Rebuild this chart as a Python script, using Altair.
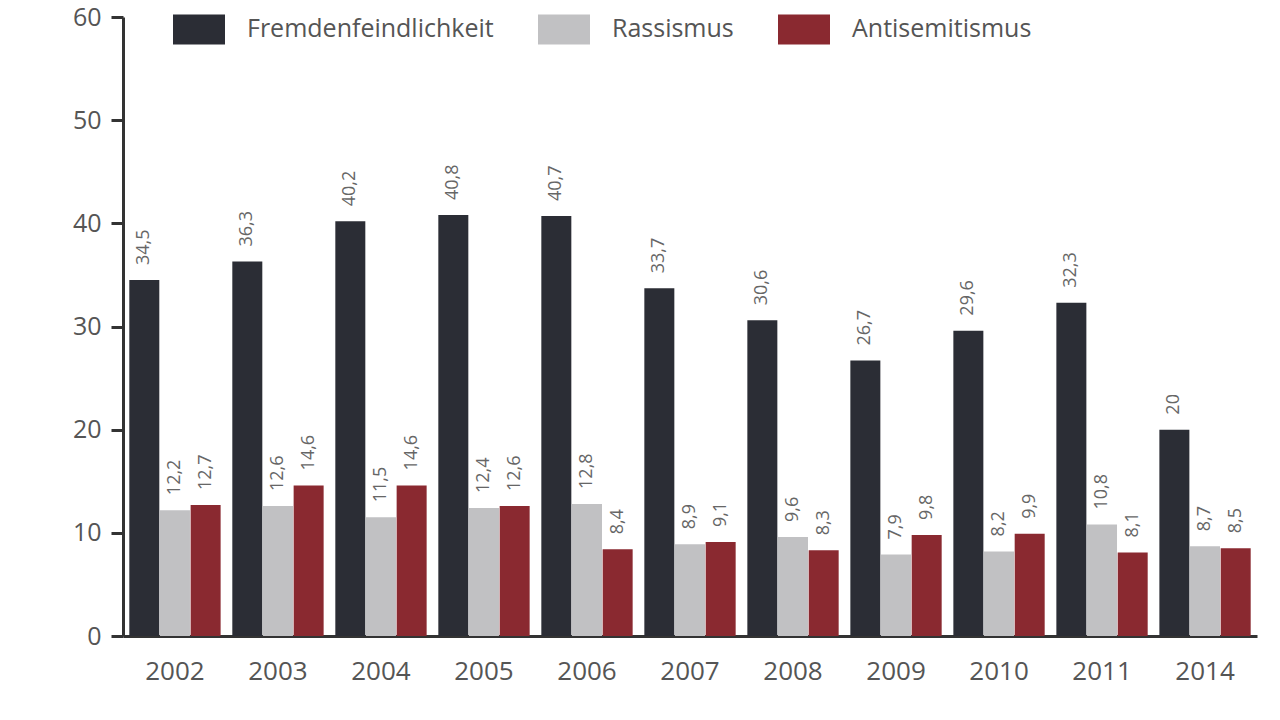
import altair as alt
import pandas as pd

years = ["2002", "2003", "2004", "2005", "2006", "2007", "2008", "2009", "2010", "2011", "2014"]
series = ["Fremdenfeindlichkeit", "Rassismus", "Antisemitismus"]
fremd = [34.5, 36.3, 40.2, 40.8, 40.7, 33.7, 30.6, 26.7, 29.6, 32.3, 20]
rass = [12.2, 12.6, 11.5, 12.4, 12.8, 8.9, 9.6, 7.9, 8.2, 10.8, 8.7]
anti = [12.7, 14.6, 14.6, 12.6, 8.4, 9.1, 8.3, 9.8, 9.9, 8.1, 8.5]
colors = ["#2b2d35", "#c1c1c3", "#8a2930"]

rows = []
for name, vals in zip(series, [fremd, rass, anti]):
    for y, v in zip(years, vals):
        rows.append({"Jahr": y, "Serie": name, "Wert": v,
                     "Label": f"{v:g}".replace(".", ",")})
df = pd.DataFrame(rows)

FONT = "Open Sans"

x = alt.X("Jahr:N", sort=years, title=None,
          scale=alt.Scale(paddingInner=0.107, paddingOuter=0.058),
          axis=alt.Axis(labelAngle=0, ticks=False, domainColor="#333333", domainWidth=3,
                        labelFontSize=26, labelColor="#555555", labelFont=FONT,
                        labelPadding=22))
y = alt.Y("Wert:Q", title=None,
          scale=alt.Scale(domain=[0, 60], nice=False),
          axis=alt.Axis(values=[0, 10, 20, 30, 40, 50, 60], grid=False,
                        domainColor="#333333", domainWidth=3, tickColor="#333333",
                        tickWidth=3, tickSize=12, labelFontSize=25, labelColor="#555555",
                        labelFont=FONT, labelPadding=10))
xo = alt.XOffset("Serie:N", sort=series, scale=alt.Scale(domain=series))
color = alt.Color("Serie:N", sort=series,
                  scale=alt.Scale(domain=series, range=colors),
                  legend=alt.Legend(title=None, orient="none", legendX=50, legendY=-14,
                                    direction="horizontal",
                                    symbolType="M-1,-0.577L1,-0.577L1,0.577L-1,0.577Z",
                                    symbolSize=2704, symbolStrokeWidth=0, symbolOpacity=1,
                                    labelFontSize=25, labelColor="#555555", labelFont=FONT,
                                    labelOffset=22, columnPadding=44, labelLimit=0))

bars = alt.Chart(df).mark_bar(size=30).encode(x=x, xOffset=xo, y=y, color=color)
labels = alt.Chart(df).mark_text(angle=270, align="left", baseline="middle", dx=15,
                                 fontSize=18, color="#666666", font=FONT).encode(
    x=x, xOffset=xo, y=y, text="Label:N")

chart = (bars + labels).properties(
    width=1134, height=619,
    background="white",
    autosize=alt.AutoSizeParams(type="none"),
    padding={"left": 123, "top": 17, "right": 23, "bottom": 84},
).configure_view(stroke=None)

chart.save("out.html", embed_options={"renderer": "svg", "actions": False})
